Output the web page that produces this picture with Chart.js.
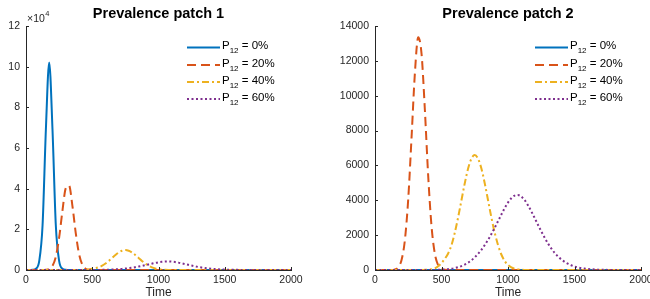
<!DOCTYPE html>
<html><head><meta charset="utf-8">
<script src="https://cdn.jsdelivr.net/npm/chart.js@4/dist/chart.umd.min.js"></script>
<style>
html,body{margin:0;padding:0;background:#fff;width:650px;height:299px;overflow:hidden;}
canvas{position:absolute;top:0;}
#c1{left:0px}
#c2{left:325px}
</style></head><body>
<canvas id="c1" width="325" height="299"></canvas>
<canvas id="c2" width="325" height="299"></canvas>
<script>
// ---- data ----
const time = [
  0,25,50,75,100,125,150,175,200,225,
  250,275,300,325,350,375,400,425,450,475,
  500,525,550,575,600,625,650,675,700,725,
  750,775,800,825,850,875,900,925,950,975,
  1000,1025,1050,1075,1100,1125,1150,1175,1200,1225,
  1250,1275,1300,1325,1350,1375,1400,1425,1450,1475,
  1500,1525,1550,1575,1600,1625,1650,1675,1700,1725,
  1750,1775,1800,1825,1850,1875,1900,1925,1950,1975,
  2000];

const seriesLabels = ['0%','20%','40%','60%'];

// Patch 1, in units of 10^4
const patch1_P0 = [
  0,0,0.01,0.06,0.45,2.2,6.9,10.2,6.9,2.2,
  0.45,0.06,0.01,0,0,0,0,0,0,0,
  0,0,0,0,0,0,0,0,0,0,
  0,0,0,0,0,0,0,0,0,0,
  0,0,0,0,0,0,0,0,0,0,
  0,0,0,0,0,0,0,0,0,0,
  0,0,0,0,0,0,0,0,0,0,
  0,0,0,0,0,0,0,0,0,0,
  0];
const patch1_P20 = [
  0,0,0,0,0,0,0.01,0.05,0.2,0.65,
  1.59,2.91,4.02,4.15,3.17,1.84,0.8,0.26,0.06,0.01,
  0,0,0,0,0,0,0,0,0,0,
  0,0,0,0,0,0,0,0,0,0,
  0,0,0,0,0,0,0,0,0,0,
  0,0,0,0,0,0,0,0,0,0,
  0,0,0,0,0,0,0,0,0,0,
  0,0,0,0,0,0,0,0,0,0,
  0];
const patch1_P40 = [
  0,0,0,0,0,0,0,0,0,0,
  0,0,0,0,0,0.001,0.003,0.006,0.014,0.031,
  0.059,0.095,0.141,0.212,0.318,0.448,0.594,0.739,0.864,0.949,
  0.98,0.949,0.864,0.739,0.594,0.448,0.318,0.212,0.132,0.077,
  0.043,0.022,0.011,0.005,0.002,0.001,0,0,0,0,
  0,0,0,0,0,0,0,0,0,0,
  0,0,0,0,0,0,0,0,0,0,
  0,0,0,0,0,0,0,0,0,0,
  0];
const patch1_P60 = [
  0,0,0,0,0,0,0,0,0,0,
  0,0,0,0,0,0,0,0,0.0005,0.001,
  0.002,0.003,0.005,0.007,0.011,0.016,0.022,0.030,0.041,0.055,
  0.071,0.091,0.113,0.140,0.169,0.201,0.236,0.273,0.311,0.347,
  0.378,0.402,0.417,0.42,0.411,0.392,0.363,0.329,0.292,0.254,
  0.217,0.182,0.149,0.121,0.097,0.076,0.060,0.046,0.035,0.026,
  0.020,0.015,0.011,0.008,0.006,0.004,0.003,0.002,0.0015,0.001,
  0.0007,0.0005,0.0003,0,0,0,0,0,0,0,
  0];

// Patch 2
const patch2_P0 = [
  0,0,0,0,0,0,0,0,0,0,
  0,0,0,0,0,0,0,0,0,0,
  0,0,0,0,0,0,0,0,0,0,
  0,0,0,0,0,0,0,0,0,0,
  0,0,0,0,0,0,0,0,0,0,
  0,0,0,0,0,0,0,0,0,0,
  0,0,0,0,0,0,0,0,0,0,
  0,0,0,0,0,0,0,0,0,0,
  0];
const patch2_P20 = [
  0,0,0,0,0,0,33,157,586,1738,
  4088,7631,11303,13350,12398,9181,5395,2516,931,273,
  64,12,2,0,0,0,0,0,0,0,
  0,0,0,0,0,0,0,0,0,0,
  0,0,0,0,0,0,0,0,0,0,
  0,0,0,0,0,0,0,0,0,0,
  0,0,0,0,0,0,0,0,0,0,
  0,0,0,0,0,0,0,0,0,0,
  0];
const patch2_P40 = [
  0,0,0,0,0,0,0,0,0,0,
  0,0,0,0,0,8,18,40,95,210,
  400,640,950,1430,2140,3020,4000,4980,5820,6390,
  6600,6390,5820,4980,4000,3020,2140,1430,890,520,
  290,150,75,35,15,6,2,0,0,0,
  0,0,0,0,0,0,0,0,0,0,
  0,0,0,0,0,0,0,0,0,0,
  0,0,0,0,0,0,0,0,0,0,
  0];
const patch2_P60 = [
  0,0,0,0,0,0,0,0,0,0,
  0,0,0,0,0,0,0,0,5,10,
  18,30,48,75,110,160,225,310,420,560,
  730,930,1160,1430,1730,2060,2420,2800,3180,3550,
  3870,4120,4270,4300,4210,4010,3720,3370,2990,2600,
  2220,1860,1530,1240,990,780,610,470,360,270,
  200,150,110,80,58,42,30,21,15,10,
  7,5,3,2,1,0,0,0,0,0,
  0];

const xTicks = [0,500,1000,1500,2000];
const patch1YTicks = [0,2,4,6,8,10,12];
const patch2YTicks = [0,2000,4000,6000,8000,10000,12000,14000];

// ---- styles ----
const colors = ['#0072BD','#D95319','#EDB120','#7E2F8E'];
const dashes = [[], [9,5], [7,3,2,3], [2,2.5]];
const FONT = '"Liberation Sans", Arial, Helvetica, sans-serif';
const AX = '#262626';

function makeDatasets(list){
  return list.map((vals,i)=>({
    label: 'P12 = ' + seriesLabels[i],
    data: time.map((t,k)=>({x:t, y:vals[k]})),
    borderColor: colors[i],
    borderWidth: 2,
    borderDash: dashes[i],
    pointRadius: 0,
    fill: false,
    cubicInterpolationMode: 'monotone',
    order: 3 - i
  }));
}

function extras(opts){
  return {
    id: 'extras',
    afterDraw(chart){
      const ctx = chart.ctx, a = chart.chartArea;
      const xs = chart.scales.x, ys = chart.scales.y;
      ctx.save();
      // inward tick marks
      ctx.strokeStyle = AX; ctx.lineWidth = 1;
      xs.ticks.forEach(t=>{
        const px = Math.round(xs.getPixelForValue(t.value)) + 0.5;
        ctx.beginPath(); ctx.moveTo(px, a.bottom); ctx.lineTo(px, a.bottom - 3); ctx.stroke();
      });
      ys.ticks.forEach(t=>{
        const py = Math.round(ys.getPixelForValue(t.value)) + 0.5;
        ctx.beginPath(); ctx.moveTo(a.left, py); ctx.lineTo(a.left + 3, py); ctx.stroke();
      });
      // title
      const cx = (a.left + a.right) / 2;
      ctx.fillStyle = '#000';
      ctx.textAlign = 'center'; ctx.textBaseline = 'middle';
      ctx.font = 'bold 14.5px ' + FONT;
      ctx.fillText(opts.title, cx, 14);
      // x label
      ctx.fillStyle = AX;
      ctx.font = '12px ' + FONT;
      ctx.fillText('Time', cx, 293);
      // exponent label
      if (opts.exponent) {
        ctx.textAlign = 'left';
        ctx.font = '10.5px ' + FONT;
        ctx.fillText('\u00d710', a.left + 1, 19);
        const w = ctx.measureText('\u00d710').width;
        ctx.font = '7.5px ' + FONT;
        ctx.fillText(opts.exponent, a.left + 1 + w + 0.5, 14);
      }
      // legend
      const rows = [47.5, 65, 82, 99];
      const lx0 = opts.legendX, lx1 = opts.legendX + 33;
      rows.forEach((ry, i)=>{
        ctx.strokeStyle = colors[i]; ctx.lineWidth = 2;
        ctx.setLineDash(dashes[i]);
        ctx.beginPath(); ctx.moveTo(lx0, ry); ctx.lineTo(lx1, ry); ctx.stroke();
        ctx.setLineDash([]);
        ctx.fillStyle = '#000';
        ctx.textAlign = 'left'; ctx.textBaseline = 'middle';
        let x = lx1 + 2;
        ctx.font = '11.5px ' + FONT;
        ctx.fillText('P', x, ry - 1.5);
        x += ctx.measureText('P').width;
        ctx.font = '8px ' + FONT;
        ctx.fillText('12', x, ry + 3.5);
        x += ctx.measureText('12').width;
        ctx.font = '11.5px ' + FONT;
        ctx.fillText(' = ' + seriesLabels[i], x, ry - 1.5);
      });
      ctx.restore();
    }
  };
}

function makeChart(id, datasets, yMax, yTicks, yAxisWidth, padRight, opts){
  return new Chart(document.getElementById(id), {
    type: 'line',
    data: { datasets },
    options: {
      responsive: false, animation: false, devicePixelRatio: 1,
      layout: { padding: { left: 0, top: 26, right: padRight, bottom: 0 } },
      plugins: { legend: { display: false }, tooltip: { enabled: false }, title: { display: false } },
      scales: {
        x: {
          type: 'linear', min: 0, max: 2000,
          grid: { display: false, drawTicks: false },
          border: { display: true, color: AX, width: 1 },
          ticks: { padding: 4, color: AX, font: { family: FONT, size: 10.5 }, maxRotation: 0, autoSkip: false,
                   callback: v => String(v) },
          afterBuildTicks: s => { s.ticks = xTicks.map(v => ({ value: v })); },
          afterFit: s => { s.height = 29; s.paddingLeft = 0; s.paddingRight = 0; }
        },
        y: {
          type: 'linear', min: 0, max: yMax,
          grid: { display: false, drawTicks: false },
          border: { display: true, color: AX, width: 1 },
          ticks: { padding: 6, color: AX, font: { family: FONT, size: 10.5 }, autoSkip: false,
                   callback: v => String(v) },
          afterBuildTicks: s => { s.ticks = yTicks.map(v => ({ value: v })); },
          afterFit: s => { s.width = yAxisWidth; s.paddingTop = 0; s.paddingBottom = 0; }
        }
      }
    },
    plugins: [extras(opts)]
  });
}

makeChart('c1', makeDatasets([patch1_P0, patch1_P20, patch1_P40, patch1_P60]),
  12, patch1YTicks, 26, 34, { title: 'Prevalence patch 1', exponent: '4', legendX: 187 });
makeChart('c2', makeDatasets([patch2_P0, patch2_P20, patch2_P40, patch2_P60]),
  14000, patch2YTicks, 50, 9, { title: 'Prevalence patch 2', legendX: 210 });
</script>
</body></html>
